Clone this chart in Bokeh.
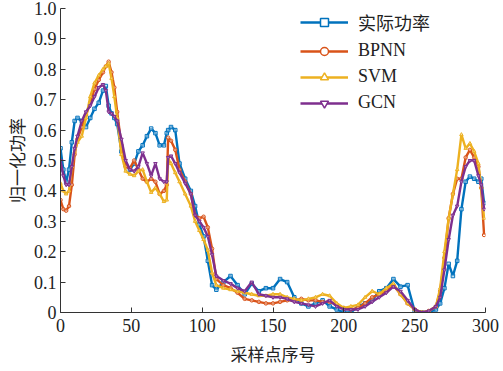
from bokeh.plotting import figure
from bokeh.models import Range1d, CustomJSTickFormatter, FixedTicker, Legend, LegendItem, ColumnDataSource
from bokeh.embed import file_html
from bokeh.resources import INLINE

# sample index (采样点序号)
sample_idx = [0, 2, 4, 6, 8, 10, 12, 15, 18, 21, 24, 27, 30, 32, 34, 36, 38, 40,
              43, 46, 49, 52, 55, 58, 61, 64, 67, 70, 73, 75, 76, 78, 81, 84, 88,
              92, 95, 98, 101, 104, 107, 110,
              115, 120, 125, 130, 135, 140, 145, 150, 155, 160, 165, 170, 175, 180,
              185, 190, 195, 200, 205, 210, 215, 220, 225, 230, 235, 240, 245, 250,
              255, 260, 265,
              268, 271, 274, 277, 280, 283, 286, 289, 292, 295, 297, 299]

actual_power = [0.54, 0.47, 0.43, 0.47, 0.56, 0.63, 0.64, 0.63, 0.61, 0.64, 0.67, 0.69, 0.73, 0.745, 0.68, 0.655, 0.64, 0.62,
                0.53, 0.486, 0.47, 0.49, 0.53, 0.55, 0.58, 0.605, 0.59, 0.55, 0.55, 0.59, 0.60, 0.61, 0.60, 0.49, 0.44,
                0.40, 0.35, 0.29, 0.25, 0.17, 0.09, 0.075,
                0.10, 0.12, 0.09, 0.06, 0.095, 0.07, 0.08, 0.08, 0.11, 0.10, 0.05, 0.03, 0.02, 0.03,
                0.04, 0.02, 0.01, 0.00, 0.00, 0.02, 0.03, 0.04, 0.07, 0.08, 0.11, 0.085, 0.09, 0.005,
                0.00, 0.00, 0.01,
                0.03, 0.08, 0.16, 0.12, 0.17, 0.34, 0.43, 0.447, 0.44, 0.43, 0.44, 0.36]

bpnn = [0.37, 0.34, 0.335, 0.35, 0.42, 0.52, 0.57, 0.61, 0.65, 0.69, 0.735, 0.765, 0.79, 0.81, 0.825, 0.79, 0.74, 0.66,
        0.55, 0.48, 0.475, 0.50, 0.47, 0.44, 0.43, 0.44, 0.43, 0.39, 0.40, 0.42, 0.575, 0.565, 0.535, 0.47, 0.43,
        0.39, 0.32, 0.31, 0.315, 0.28, 0.21, 0.11,
        0.09, 0.08, 0.065, 0.045, 0.04, 0.035, 0.03, 0.03, 0.035, 0.04, 0.04, 0.045, 0.04, 0.04,
        0.035, 0.035, 0.025, 0.015, 0.01, 0.015, 0.03, 0.05, 0.06, 0.07, 0.09, 0.06, 0.03, 0.01,
        0.00, 0.005, 0.02,
        0.07, 0.18, 0.31, 0.39, 0.44, 0.44, 0.51, 0.535, 0.51, 0.48, 0.41, 0.255]

svm = [0.425, 0.40, 0.39, 0.40, 0.48, 0.53, 0.56, 0.58, 0.64, 0.71, 0.755, 0.78, 0.80, 0.81, 0.82, 0.77, 0.71, 0.64,
       0.52, 0.465, 0.455, 0.45, 0.465, 0.47, 0.43, 0.395, 0.41, 0.39, 0.365, 0.37, 0.505, 0.49, 0.46, 0.43, 0.39,
       0.35, 0.30, 0.27, 0.24, 0.205, 0.13, 0.09,
       0.08, 0.075, 0.07, 0.065, 0.06, 0.055, 0.055, 0.06, 0.06, 0.05, 0.045, 0.04, 0.045, 0.05,
       0.06, 0.055, 0.03, 0.015, 0.02, 0.025, 0.05, 0.07, 0.06, 0.08, 0.095, 0.06, 0.03, 0.01,
       0.00, 0.005, 0.02,
       0.08, 0.20, 0.31, 0.39, 0.47, 0.585, 0.54, 0.556, 0.53, 0.49, 0.41, 0.31]

gcn = [0.50, 0.45, 0.42, 0.42, 0.48, 0.54, 0.58, 0.63, 0.66, 0.68, 0.71, 0.74, 0.75, 0.73, 0.66, 0.655, 0.645, 0.63,
       0.57, 0.50, 0.47, 0.465, 0.48, 0.525, 0.49, 0.45, 0.49, 0.44, 0.43, 0.43, 0.51, 0.515, 0.49, 0.46, 0.425,
       0.39, 0.32, 0.30, 0.28, 0.25, 0.19, 0.12,
       0.105, 0.095, 0.08, 0.07, 0.10, 0.06, 0.055, 0.05, 0.05, 0.045, 0.035, 0.03, 0.025, 0.02,
       0.03, 0.04, 0.02, 0.01, 0.01, 0.01, 0.02, 0.035, 0.05, 0.065, 0.085, 0.07, 0.04, 0.01,
       0.00, 0.005, 0.02,
       0.05, 0.14, 0.24, 0.32, 0.35, 0.43, 0.48, 0.50, 0.50, 0.45, 0.42, 0.34]

series_names = ["实际功率", "BPNN", "SVM", "GCN"]
series_values = [actual_power, bpnn, svm, gcn]
colors = ["#0072BD", "#D95319", "#EDB120", "#7E2F8E"]
markers = ["square", "circle", "triangle", "inverted_triangle"]

x_ticks = [0, 50, 100, 150, 200, 250, 300]
y_ticks = [0, 0.1, 0.2, 0.3, 0.4, 0.5, 0.6, 0.7, 0.8, 0.9, 1.0]

SERIF = "'Liberation Serif', 'Noto Sans CJK SC', serif"
CJK = "'Noto Sans CJK SC', sans-serif"

p = figure(frame_width=425, frame_height=304,
           min_border_left=55, min_border_right=15, min_border_top=8, min_border_bottom=47,
           x_range=Range1d(0, 300), y_range=Range1d(0, 1),
           output_backend="svg", toolbar_location=None)

p.outline_line_color = None
p.xgrid.visible = False
p.ygrid.visible = False
p.background_fill_color = "white"
p.border_fill_color = "white"

for ax in (p.xaxis[0], p.yaxis[0]):
    ax.major_tick_in = 5
    ax.major_tick_out = 0
    ax.minor_tick_in = 0
    ax.minor_tick_out = 0
    ax.axis_line_color = "#333333"
    ax.axis_line_width = 1
    ax.major_tick_line_color = "#333333"
    ax.major_label_text_font = SERIF
    ax.major_label_text_font_size = "18px"
    ax.major_label_text_color = "#222222"
    ax.axis_label_text_font = CJK
    ax.axis_label_text_font_size = "17px"
    ax.axis_label_text_font_style = "normal"
    ax.axis_label_text_color = "#222222"

p.xaxis.ticker = FixedTicker(ticks=x_ticks)
p.yaxis.ticker = FixedTicker(ticks=y_ticks)
p.yaxis.formatter = CustomJSTickFormatter(code="return tick == 0 ? '0' : tick.toFixed(1);")
p.xaxis.major_label_standoff = 6
p.yaxis.major_label_standoff = 4
p.xaxis.axis_label = "采样点序号"
p.yaxis.axis_label = "归一化功率"
p.xaxis.axis_label_standoff = 6
p.yaxis.axis_label_standoff = 2

legend_items = []
for name, vals, col, mk in zip(series_names, series_values, colors, markers):
    src = ColumnDataSource(dict(x=sample_idx, y=vals))
    p.line("x", "y", source=src, line_color=col, line_width=2.4)
    p.scatter("x", "y", source=src, marker=mk, size=3.5, line_color=col,
              fill_color="white", fill_alpha=0.4, line_width=1)
    # legend-only glyphs (drawn off the visible range)
    off = ColumnDataSource(dict(x=[-100, -90], y=[-100, -100]))
    lr = p.line("x", "y", source=off, line_color=col, line_width=2.6)
    sr = p.scatter("x", "y", source=off, marker=mk, size=9, line_color=col,
                   fill_color="white", line_width=1.5)
    legend_items.append(LegendItem(label=name, renderers=[lr, sr]))

legend = Legend(items=legend_items, location=(240, 199),
                border_line_alpha=0, background_fill_alpha=0,
                padding=0, margin=0, spacing=5,
                glyph_width=48, glyph_height=20, label_height=20,
                label_standoff=10,
                label_text_font=SERIF, label_text_font_size="18px",
                label_text_color="#222222")
p.add_layout(legend, "center")

open("out.html", "w").write(file_html(p, INLINE))
